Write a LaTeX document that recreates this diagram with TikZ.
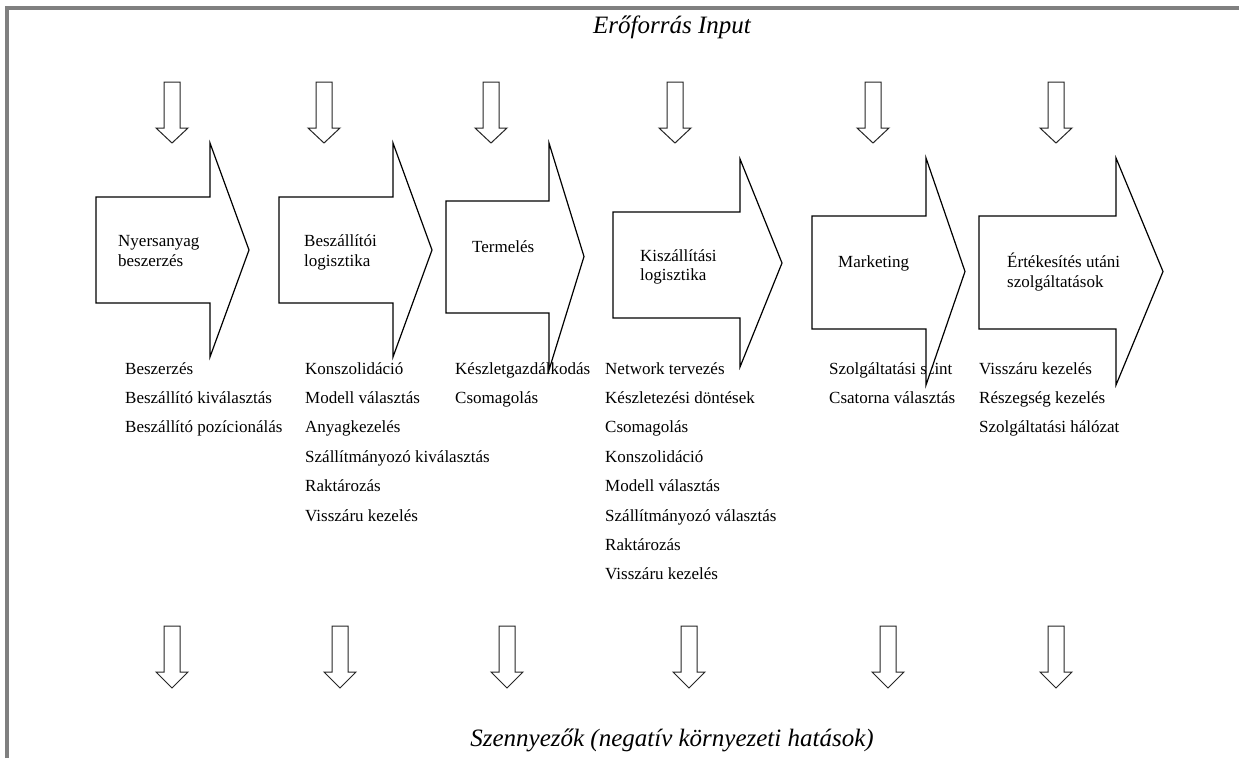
\documentclass[tikz,border=0pt]{standalone}
\usepackage{fontspec}
\setmainfont{Liberation Serif}
\definecolor{framegray}{RGB}{128,128,128}
\begin{document}
\begin{tikzpicture}[x=1pt,y=-1pt,
  lbl/.style={font=\fontsize{17}{18}\selectfont, anchor=base west, inner sep=0pt},
  ttl/.style={font=\fontsize{25}{28}\selectfont\itshape, anchor=base, inner sep=0pt},
  bigarrow/.style={draw=black, fill=white, line width=1.2pt, line join=miter},
  smallarrow/.style={draw=black!85, fill=white, line width=1pt, line join=miter},
  frameline/.style={draw=framegray, line width=3.5pt, line join=miter}]
\fill[white] (0,0) rectangle (1239,758);
\useasboundingbox (0,0) rectangle (1239,758);
\draw[frameline] (7,758) -- (7,8) -- (1239,8);

% titles
\node[ttl] (top) at (672,33) {Erőforrás Input};
\node[ttl] (bottom) at (672,746) {Szennyezők (negatív környezeti hatások)};

% small input arrows
\foreach \c in {172,324,491,675,873,1056}
  \draw[smallarrow] (\c-8,82) -- (\c+8,82) -- (\c+8,128) -- (\c+16,128) -- (\c,143)
     -- (\c-16,128) -- (\c-8,128) -- cycle;

% small output arrows
\foreach \c in {172,340,507,689,888,1056}
  \draw[smallarrow] (\c-8,626) -- (\c+8,626) -- (\c+8,672) -- (\c+16,672) -- (\c,688)
     -- (\c-16,672) -- (\c-8,672) -- cycle;

% lists
\node[lbl] (a1) at (125,374) {Beszerzés};
\node[lbl] (a2) at (125,403.4) {Beszállító kiválasztás};
\node[lbl] (a3) at (125,432.8) {Beszállító pozícionálás};

\node[lbl] (b1) at (305,374) {Konszolidáció};
\node[lbl] (b2) at (305,403.4) {Modell választás};
\node[lbl] (b3) at (305,432.8) {Anyagkezelés};
\node[lbl] (b4) at (305,462.2) {Szállítmányozó kiválasztás};
\node[lbl] (b5) at (305,491.6) {Raktározás};
\node[lbl] (b6) at (305,521) {Visszáru kezelés};

\node[lbl] (c1) at (455,374) {Készletgazdálkodás};
\node[lbl] (c2) at (455,403.4) {Csomagolás};

\node[lbl] (d1) at (605,374) {Network tervezés};
\node[lbl] (d2) at (605,403.4) {Készletezési döntések};
\node[lbl] (d3) at (605,432.8) {Csomagolás};
\node[lbl] (d4) at (605,462.2) {Konszolidáció};
\node[lbl] (d5) at (605,491.6) {Modell választás};
\node[lbl] (d6) at (605,521) {Szállítmányozó választás};
\node[lbl] (d7) at (605,550.4) {Raktározás};
\node[lbl] (d8) at (605,579.8) {Visszáru kezelés};

\node[lbl] (e1) at (829,374) {Szolgáltatási szint};
\node[lbl] (e2) at (829,403.4) {Csatorna választás};

\node[lbl] (f1) at (979,374) {Visszáru kezelés};
\node[lbl] (f2) at (979,403.4) {Részegség kezelés};
\node[lbl] (f3) at (979,432.8) {Szolgáltatási hálózat};

% big process arrows (drawn over the lists, white filled)
\foreach \l/\t/\b/\n/\ht/\hb/\tx in {
   96/197/303/210/143/357/249,
   279/197/303/393/143/357/432,
   446/201/313/549/143/370/584,
   613/212/318/740/159/367/782,
   812/216/329/926/158/385/965,
   979/216/329/1116/158/385/1163}
  \draw[bigarrow] (\l,\t) -- (\n,\t) -- (\n,\ht) -- (\tx,{(\ht+\hb)/2}) -- (\n,\hb)
     -- (\n,\b) -- (\l,\b) -- cycle;

% process labels
\node[lbl] (p1a) at (118,246) {Nyersanyag};
\node[lbl] (p1b) at (118,266) {beszerzés};
\node[lbl] (p2a) at (304,246) {Beszállítói};
\node[lbl] (p2b) at (304,266) {logisztika};
\node[lbl] (p3) at (472,252) {Termelés};
\node[lbl] (p4a) at (640,261) {Kiszállítási};
\node[lbl] (p4b) at (640,280) {logisztika};
\node[lbl] (p5) at (838,267) {Marketing};
\node[lbl] (p6a) at (1007,267) {Értékesítés utáni};
\node[lbl] (p6b) at (1007,287) {szolgáltatások};
\end{tikzpicture}
\end{document}
